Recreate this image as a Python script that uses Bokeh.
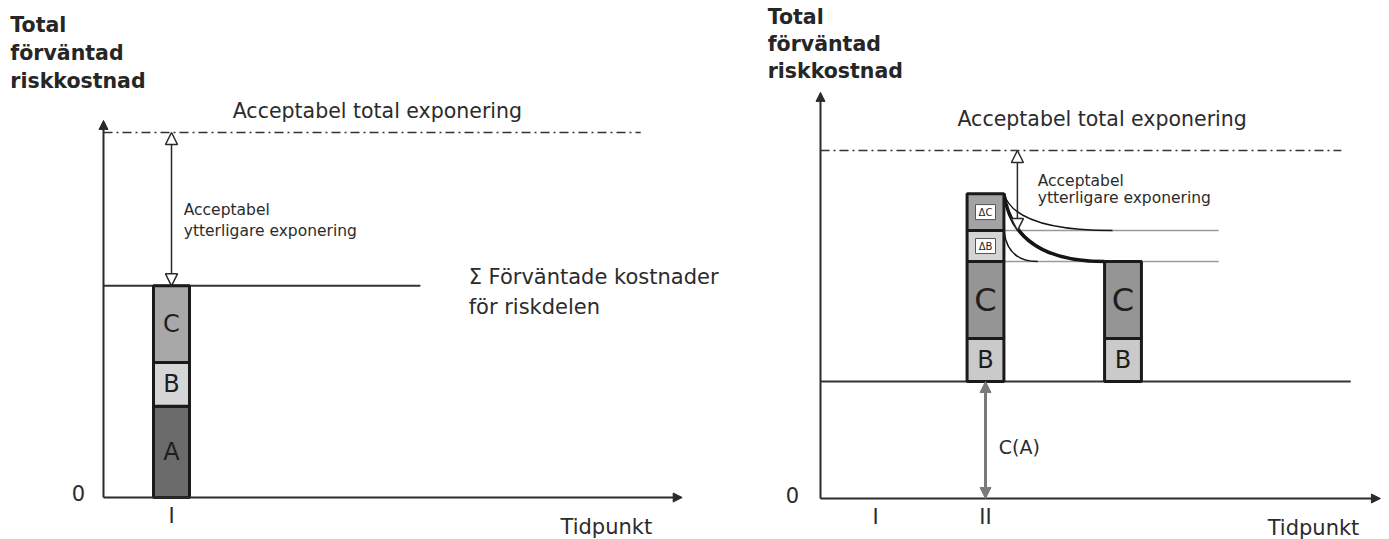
from bokeh.plotting import figure
from bokeh.models import Range1d, Arrow, NormalHead, Label, ColumnDataSource
from bokeh.layouts import row
from bokeh.embed import file_html
from bokeh.resources import INLINE
from bokeh.core.properties import value

# ---------------- data ----------------
# Left panel: expected risk cost at time point I
segments_left = ["A", "B", "C"]
values_left = [2.5, 1.2, 2.1]
accept_total = 10.0
time_labels_left = ["I"]
time_pos_left = [1.0]

# Right panel: time point II and a later time
cost_A_right = 3.36
segments_right_II = ["B", "C", "ΔB", "ΔC"]
values_right_II = [1.24, 2.21, 0.89, 1.06]
segments_right_later = ["B", "C"]
values_right_later = [1.24, 2.21]
time_labels_right = ["I", "II"]
time_pos_right = [1.0, 3.0]
later_time = 5.5
# end points (x) of the decay curves
curve_end_upper = 5.31
curve_end_lower = 3.95

FONT = "DejaVu Sans"
INK = "#2a2a2a"
TXT = "#2b2b2b"


def make_fig(w, h, xr, yr):
    p = figure(width=w, height=h, x_range=Range1d(*xr), y_range=Range1d(*yr),
               output_backend="svg", toolbar_location=None, min_border=0)
    p.axis.visible = False
    p.grid.visible = False
    p.outline_line_color = None
    p.background_fill_color = "white"
    p.border_fill_color = "white"
    return p


def txt(p, ky, x, y, s, size, bold=False, align="left", color=TXT):
    # small upward correction so the alphabetic baseline lands where intended
    y = y + 0.33 * size / ky
    p.add_layout(Label(x=x, y=y, text=s, text_font=FONT, text_font_size=f"{size}px",
                       text_font_style="bold" if bold else "normal",
                       text_align=align, text_baseline="alphabetic", text_color=color))


def arrow(p, x0, y0, x1, y1, color=INK, width=2, start=None, end=None):
    p.add_layout(Arrow(x_start=x0, y_start=y0, x_end=x1, y_end=y1,
                       line_color=color, line_width=width, start=start, end=end))


def filled_head(size, color=INK):
    return NormalHead(size=size, fill_color=color, line_color=color, line_width=1)


def open_head(size):
    return NormalHead(size=size, fill_color="white", line_color=INK, line_width=1.5)


def stack(vals, base=0.0):
    bottoms, tops = [], []
    cur = base
    for v in vals:
        bottoms.append(cur)
        cur += v
        tops.append(cur)
    return bottoms, tops


H = 539
# ================= LEFT PANEL =================
WL = 760
KL = 36.5
pL = make_fig(WL, H, (-103 / 68, (WL - 103) / 68), (-42 / KL, 497 / KL))

# title
for yy, s in zip([12.77, 12.0, 11.23], ["Total", "förväntad", "riskkostnad"]):
    txt(pL, KL, -1.37, yy, s, 20.5, bold=True, color="#262626")

# axes
arrow(pL, 0, 0, 0, 10.33, end=filled_head(9))
arrow(pL, 0, 0, 8.51, 0, end=filled_head(9))
txt(pL, KL, -0.37, -0.08, "0", 21, align="center")
for tl, tp in zip(time_labels_left, time_pos_left):
    txt(pL, KL, tp, -0.71, tl, 21, align="center")
txt(pL, KL, 6.72, -0.99, "Tidpunkt", 21)

# acceptable total exposure
pL.line([0, 7.9], [accept_total, accept_total], line_color="#333333", line_width=1.6,
        line_dash="9 4 2 4")
txt(pL, KL, 1.9, 10.41, "Acceptabel total exponering", 20.5)

# stacked bar
bL, tL = stack(values_left)
bw = 0.53
srcL = ColumnDataSource(dict(left=[time_pos_left[0] - bw / 2] * 3,
                             right=[time_pos_left[0] + bw / 2] * 3,
                             bottom=bL, top=tL,
                             color=["#6b6b6b", "#d6d6d6", "#a8a8a8"],
                             lab=segments_left,
                             x=[time_pos_left[0]] * 3,
                             ym=[(b + t) / 2 for b, t in zip(bL, tL)]))
total_left = tL[-1]
pL.line([0, 4.66], [total_left, total_left], line_color="#333333", line_width=2)
pL.quad(left="left", right="right", bottom="bottom", top="top", fill_color="color",
        line_color="#1a1a1a", line_width=3, source=srcL)
pL.text(x="x", y="ym", text="lab", source=srcL, text_font=value(FONT),
        text_font_size="24px", text_align="center", text_baseline="middle",
        text_color="#1e1e1e")

# additional acceptable exposure arrow
arrow(pL, time_pos_left[0], accept_total, time_pos_left[0], total_left, width=1.5,
      start=open_head(12), end=open_head(12))
txt(pL, KL, 1.18, 7.73, "Acceptabel", 15.5)
txt(pL, KL, 1.18, 7.15, "ytterligare exponering", 15.5)

txt(pL, KL, 5.37, 5.86, "Σ Förväntade kostnader", 21)
txt(pL, KL, 5.37, 5.04, "för riskdelen", 21)

# ================= RIGHT PANEL =================
WR = 1389 - WL
ox = 820 - WL
KR = 34.8
pR = make_fig(WR, H, (-ox / 55, (WR - ox) / 55), (-41 / KR, 498 / KR))

for yy, s in zip([13.65, 12.87, 12.10], ["Total", "förväntad", "riskkostnad"]):
    txt(pR, KR, -0.96, yy, s, 20.5, bold=True, color="#262626")

arrow(pR, 0, 0, 0, 11.67, end=filled_head(9))
arrow(pR, 0, 0, 10.18, 0, end=filled_head(9))
txt(pR, KR, -0.51, -0.09, "0", 21, align="center")
for tl, tp in zip(time_labels_right, time_pos_right):
    txt(pR, KR, tp, -0.72, tl, 21, align="center")
txt(pR, KR, 8.13, -1.06, "Tidpunkt", 21)

pR.line([0, 9.47], [accept_total, accept_total], line_color="#333333", line_width=1.6,
        line_dash="9 4 2 4")
txt(pR, KR, 2.49, 10.72, "Acceptabel total exponering", 20.5)

# baseline C(A)
pR.line([0, 9.64], [cost_A_right, cost_A_right], line_color="#333333", line_width=2)

bwR = 0.67
tII = time_pos_right[1]
b2, t2 = stack(values_right_II, cost_A_right)
b3, t3 = stack(values_right_later, cost_A_right)
lvl_C = t2[1]     # top of C
lvl_dB = t2[2]    # top of ΔB
lvl_dC = t2[3]    # top of ΔC
x_edge = tII + bwR / 2

# thin gray reference lines
for lv in [lvl_dB, lvl_C]:
    pR.line([x_edge, 7.24], [lv, lv], line_color="#9a9a9a", line_width=1.5)

# decay curves (quadratic bezier connectors)
x_later_left = later_time - bwR / 2
curves = [
    (x_edge, lvl_dC, curve_end_upper, lvl_dB, 1.5),
    (x_edge, lvl_dB, curve_end_lower, lvl_C, 1.5),
    (x_edge, lvl_dC, x_later_left, lvl_C, 3.5),
]
for x0, y0, x1, y1, lw in curves:
    pR.quadratic(x0=[x0], y0=[y0], x1=[x1], y1=[y1],
                 cx=[x0 + 0.1 * (x1 - x0)], cy=[y1], line_color="#151515", line_width=lw)

colsII = ["#cacaca", "#959595", "#d4d4d4", "#a3a3a3"]
srcR = ColumnDataSource(dict(
    left=[tII - bwR / 2] * 4 + [later_time - bwR / 2] * 2,
    right=[tII + bwR / 2] * 4 + [later_time + bwR / 2] * 2,
    bottom=b2 + b3, top=t2 + t3,
    color=colsII + ["#cacaca", "#959595"]))
pR.quad(left="left", right="right", bottom="bottom", top="top", fill_color="color",
        line_color="#1a1a1a", line_width=3, source=srcR)

# big labels B / C
big = ColumnDataSource(dict(
    x=[tII, tII, later_time, later_time],
    y=[(b2[0] + t2[0]) / 2, (b2[1] + t2[1]) / 2, (b3[0] + t3[0]) / 2, (b3[1] + t3[1]) / 2],
    lab=[segments_right_II[0], segments_right_II[1], segments_right_later[0], segments_right_later[1]],
    size=["24px", "32px", "24px", "32px"]))
pR.text(x="x", y="y", text="lab", source=big, text_font=value(FONT),
        text_font_size="size", text_align="center", text_baseline="middle",
        text_color="#1e1e1e")

# small Δ boxes
small = ColumnDataSource(dict(
    x=[tII, tII],
    y=[(b2[2] + t2[2]) / 2, (b2[3] + t2[3]) / 2],
    lab=[segments_right_II[2], segments_right_II[3]]))
pR.rect(x="x", y="y", width=20, height=15, width_units="screen", height_units="screen",
        fill_color="white", line_color="#555555", line_width=1, source=small)
pR.text(x="x", y="y", text="lab", source=small, text_font=value(FONT),
        text_font_size="10px", text_align="center", text_baseline="middle",
        text_color="#1e1e1e")

# additional acceptable exposure arrow
arrow(pR, 3.58, accept_total, 3.58, lvl_dB, width=1.5,
      start=open_head(12), end=open_head(12))
txt(pR, KR, 3.95, 8.99, "Acceptabel", 15.5)
txt(pR, KR, 3.95, 8.48, "ytterligare exponering", 15.5)

# C(A) arrow
arrow(pR, tII, 0, tII, cost_A_right, color="#7a7a7a", width=3,
      start=filled_head(11, "#7a7a7a"), end=filled_head(11, "#7a7a7a"))
txt(pR, KR, 3.24, 1.29, "C(A)", 19)

layout = row(pL, pR)
open("out.html", "w").write(file_html(layout, INLINE))
